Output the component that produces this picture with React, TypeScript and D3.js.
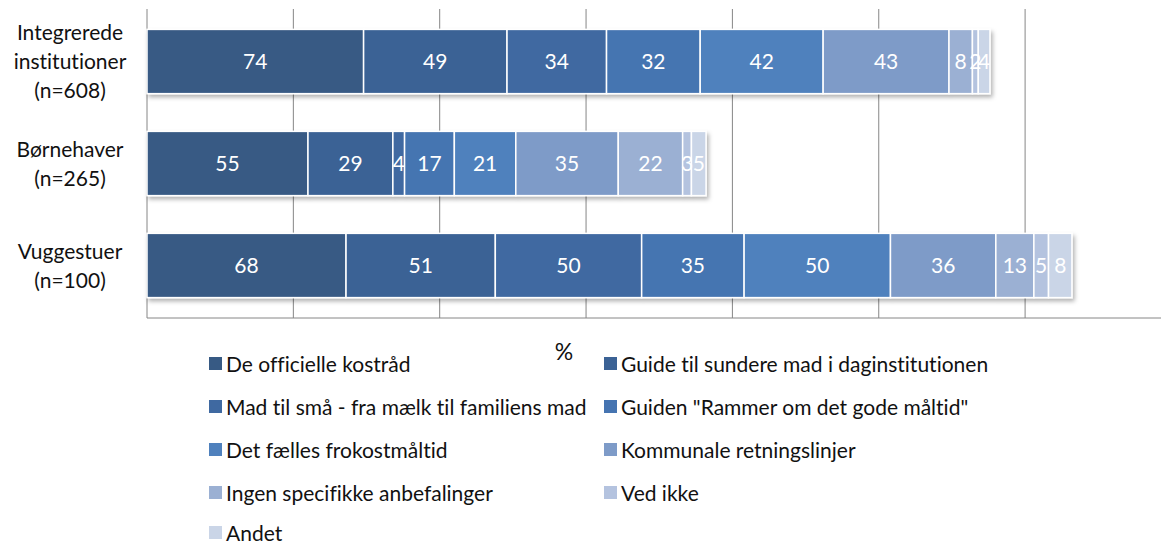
import { useEffect, useRef } from "react";
import * as d3 from "d3";

const categories = ["Integrerede institutioner (n=608)", "Børnehaver (n=265)", "Vuggestuer (n=100)"];
const categoryLines = [
  ["Integrerede", "institutioner", "(n=608)"],
  ["Børnehaver", "(n=265)"],
  ["Vuggestuer", "(n=100)"],
];

const seriesNames = [
  "De officielle kostråd",
  "Guide til sundere mad i daginstitutionen",
  "Mad til små - fra mælk til familiens mad",
  'Guiden "Rammer om det gode måltid"',
  "Det fælles frokostmåltid",
  "Kommunale retningslinjer",
  "Ingen specifikke anbefalinger",
  "Ved ikke",
  "Andet",
];

// values per category, in series order
const integrerede = [74, 49, 34, 32, 42, 43, 8, 2, 4];
const boernehaver = [55, 29, 4, 17, 21, 35, 22, 3, 5];
const vuggestuer = [68, 51, 50, 35, 50, 36, 13, 5, 8];
const values = [integrerede, boernehaver, vuggestuer];

const xTicks = [0, 50, 100, 150, 200, 250, 300, 350];

const colors = [
  "#375a84",
  "#3b6295",
  "#3f69a1",
  "#4574b1",
  "#4f81bd",
  "#7e9bc8",
  "#9bb0d3",
  "#b4c3df",
  "#cad5e7",
];

export default function App() {
  const svgRef = useRef<SVGSVGElement | null>(null);
  const width = 1161;
  const height = 545;

  useEffect(() => {
    if (!svgRef.current) return;
    const svg = d3.select(svgRef.current);
    svg.selectAll("*").remove();

    const font = "Lato, 'Open Sans', sans-serif";
    const fs = 21;
    const left = 147;
    const top = 9;
    const bottom = 318;

    const x = d3.scaleLinear().domain([0, 350]).range([left, left + 350 * 2.927]);
    const y = d3
      .scaleBand<string>()
      .domain(categories)
      .range([top, bottom])
      .paddingInner(0.37)
      .paddingOuter(0.2);

    const defs = svg.append("defs");
    const f = defs
      .append("filter")
      .attr("id", "shadow")
      .attr("x", "-5%")
      .attr("y", "-20%")
      .attr("width", "110%")
      .attr("height", "150%");
    f.append("feDropShadow")
      .attr("dx", 2)
      .attr("dy", 3)
      .attr("stdDeviation", 2)
      .attr("flood-color", "#000")
      .attr("flood-opacity", 0.3);

    // gridlines
    svg
      .append("g")
      .selectAll("line")
      .data(xTicks.slice(1))
      .join("line")
      .attr("x1", (d) => x(d))
      .attr("x2", (d) => x(d))
      .attr("y1", top)
      .attr("y2", bottom)
      .attr("stroke", "#868686")
      .attr("stroke-width", 1);

    // axes
    svg
      .append("line")
      .attr("x1", x(0))
      .attr("x2", x(0))
      .attr("y1", top)
      .attr("y2", bottom)
      .attr("stroke", "#868686");
    svg
      .append("line")
      .attr("x1", x(0))
      .attr("x2", width)
      .attr("y1", bottom)
      .attr("y2", bottom)
      .attr("stroke", "#868686");

    // bars
    categories.forEach((cat, ci) => {
      const vals = values[ci];
      const starts = d3.cumsum([0, ...vals.slice(0, -1)]);
      const g = svg.append("g").attr("filter", "url(#shadow)");
      const segs = vals.map((v, i) => ({ v, s: starts[i], i }));
      g.selectAll("rect")
        .data(segs)
        .join("rect")
        .attr("x", (d) => x(d.s))
        .attr("y", y(cat)!)
        .attr("width", (d) => x(d.s + d.v) - x(d.s))
        .attr("height", y.bandwidth())
        .attr("fill", (d) => colors[d.i])
        .attr("stroke", "#fff")
        .attr("stroke-width", 1.5);
      svg
        .append("g")
        .selectAll("text")
        .data(segs)
        .join("text")
        .attr("x", (d) => (x(d.s) + x(d.s + d.v)) / 2)
        .attr("y", y(cat)! + y.bandwidth() / 2)
        .attr("dy", "0.36em")
        .attr("text-anchor", "middle")
        .attr("fill", "#fff")
        .attr("font-family", font)
        .attr("font-size", fs)
        .text((d) => d.v);

      // category label
      const lines = categoryLines[ci];
      const cy = y(cat)! + y.bandwidth() / 2;
      const lh = 29;
      svg
        .append("g")
        .selectAll("text")
        .data(lines)
        .join("text")
        .attr("x", 70)
        .attr("y", (_, i) => cy + (i - (lines.length - 1) / 2) * lh)
        .attr("dy", "0.36em")
        .attr("text-anchor", "middle")
        .attr("fill", "#111")
        .attr("font-family", font)
        .attr("font-size", fs)
        .style("font-variant-ligatures", "none")
        .text((d) => d);
    });

    // axis title
    svg
      .append("text")
      .attr("x", 564)
      .attr("y", 352)
      .attr("dy", "0.36em")
      .attr("text-anchor", "middle")
      .attr("font-family", font)
      .attr("font-size", 23)
      .attr("fill", "#111")
      .text("%");

    // legend
    const legend = svg.append("g");
    const colX = [209, 604];
    const rowY = [364, 407, 450, 493, 533];
    seriesNames.forEach((name, i) => {
      const lx = colX[i % 2];
      const ly = rowY[Math.floor(i / 2)];
      legend
        .append("rect")
        .attr("x", lx)
        .attr("y", ly - 7)
        .attr("width", 13)
        .attr("height", 13)
        .attr("fill", colors[i]);
      legend
        .append("text")
        .attr("x", lx + 17)
        .attr("y", ly)
        .attr("dy", "0.36em")
        .attr("font-family", font)
        .attr("font-size", fs)
        .attr("fill", "#111")
        .style("font-variant-ligatures", "none")
        .text(name);
    });
  }, []);

  return (
    <svg
      ref={svgRef}
      width={width}
      height={height}
      style={{ position: "absolute", left: 0, top: 0, background: "#fff" }}
    />
  );
}
